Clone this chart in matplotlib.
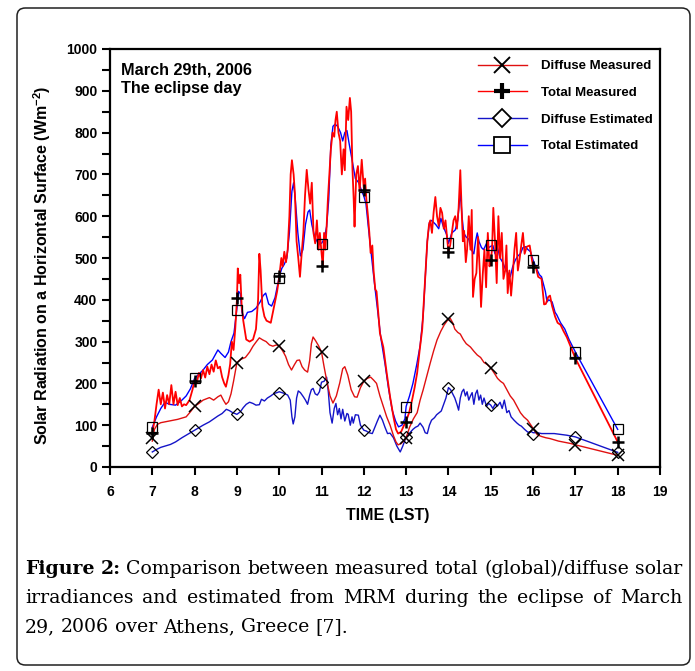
import matplotlib
matplotlib.use('Agg')
import matplotlib.pyplot as plt
from matplotlib.lines import Line2D
from matplotlib.patches import FancyBboxPatch
from matplotlib.ticker import MultipleLocator

# ---------------- data ----------------
tm_t = [7.00, 7.05, 7.10, 7.15, 7.20, 7.25, 7.30, 7.35, 7.40, 7.45, 7.50, 7.55, 7.60, 7.65, 7.70, 7.75,
        7.80, 7.88, 7.95, 8.00, 8.05, 8.10, 8.15, 8.20, 8.25, 8.30, 8.35, 8.40, 8.45, 8.50, 8.55, 8.60,
        8.65, 8.70, 8.74, 8.80, 8.84, 8.88, 8.92, 8.96, 9.00, 9.02, 9.05, 9.08, 9.11, 9.15, 9.22, 9.30,
        9.38, 9.45, 9.50, 9.53, 9.56, 9.60, 9.65, 9.70, 9.80, 9.90, 9.95, 10.00, 10.05, 10.08, 10.12,
        10.16, 10.20, 10.24, 10.27, 10.30, 10.34, 10.37, 10.41, 10.45, 10.49, 10.53, 10.57, 10.61, 10.65,
        10.69, 10.73, 10.77, 10.81, 10.85, 10.89, 10.93, 10.96, 11.00, 11.03, 11.06, 11.09, 11.12, 11.15,
        11.18, 11.22, 11.26, 11.30, 11.33, 11.36, 11.40, 11.44, 11.48, 11.52, 11.55, 11.59, 11.63, 11.67,
        11.70, 11.73, 11.76, 11.78, 11.82, 11.86, 11.90, 11.95, 12.00, 12.03, 12.06, 12.10, 12.13, 12.16,
        12.20, 12.23, 12.27, 12.30, 12.38, 12.46, 12.54, 12.62, 12.70, 12.76, 12.81, 12.88, 12.95, 13.00,
        13.07, 13.14, 13.20, 13.26, 13.32, 13.38, 13.45, 13.50, 13.54, 13.57, 13.61, 13.65, 13.69, 13.73,
        13.77, 13.81, 13.85, 13.89, 13.93, 13.97, 14.00, 14.04, 14.08, 14.12, 14.16, 14.20, 14.24, 14.28,
        14.31, 14.34, 14.37, 14.41, 14.44, 14.48, 14.52, 14.55, 14.58, 14.62, 14.66, 14.70, 14.74, 14.77,
        14.81, 14.85, 14.89, 14.93, 14.97, 15.00, 15.03, 15.06, 15.10, 15.14, 15.18, 15.22, 15.26, 15.30,
        15.34, 15.37, 15.40, 15.44, 15.48, 15.52, 15.56, 15.60, 15.64, 15.68, 15.72, 15.76, 15.80, 15.85,
        15.92, 16.00, 16.06, 16.12, 16.20, 16.26, 16.30, 16.36, 16.40, 16.45, 16.52, 16.58, 16.65, 16.72,
        16.80, 16.90, 17.00, 18.00]
tm_v = [80, 110, 150, 185, 150, 178, 140, 172, 150, 196, 150, 180, 148, 165, 145, 150,
        148, 160, 185, 208, 200, 225, 212, 232, 214, 240, 222, 245, 228, 255, 236, 240,
        215, 200, 192, 220, 246, 300, 280, 330, 400, 475, 440, 460, 390, 350, 305, 300,
        305, 330, 400, 510, 470, 385, 360, 350, 345, 395, 420, 455, 500, 480, 515,
        490, 520, 600, 700, 734, 700, 655, 540, 500, 455, 510, 560, 650, 711,
        665, 630, 680, 560, 535, 590, 520, 560, 512, 480, 560, 520, 575, 640,
        690, 760, 800, 790, 830, 850, 800, 780, 700, 760, 710, 862, 830, 883,
        850, 715, 640, 575, 700, 720, 660, 735, 665, 690, 640, 598, 560, 512,
        530, 470, 425, 420, 320, 287, 225, 168, 120, 90, 80, 84, 100, 110,
        130, 160, 190, 225, 280, 330, 450, 540, 580, 590, 560, 610, 646, 600,
        577, 620, 608, 570, 590, 545, 515, 530, 560, 590, 600, 570, 620, 710,
        620, 540, 565, 490, 520, 600, 520, 615, 407, 450, 464, 550, 470, 383,
        460, 520, 430, 560, 480, 495, 520, 620, 540, 440, 600, 500, 560, 450,
        470, 530, 416, 470, 410, 460, 520, 560, 470, 496, 530, 560, 510, 527,
        530, 478, 480, 455, 450, 389, 390, 407, 410, 385, 360, 345, 340, 325,
        310, 285, 260, 60]

te_t = [7.00, 7.10, 7.20, 7.30, 7.40, 7.55, 7.70, 7.80, 7.90, 8.00, 8.10, 8.20, 8.30, 8.42, 8.55, 8.62,
        8.72, 8.80, 8.86, 8.93, 9.00, 9.04, 9.08, 9.12, 9.18, 9.25, 9.35, 9.45, 9.55, 9.62, 9.68, 9.75,
        9.82, 9.90, 10.00, 10.06, 10.12, 10.18, 10.24, 10.30, 10.34, 10.38, 10.44, 10.50, 10.56, 10.62,
        10.68, 10.72, 10.77, 10.84, 10.92, 11.00, 11.06, 11.12, 11.17, 11.22, 11.27, 11.32, 11.38, 11.45,
        11.50, 11.55, 11.60, 11.65, 11.72, 11.80, 11.88, 11.95, 12.00, 12.05, 12.10, 12.17, 12.25, 12.32,
        12.40, 12.50, 12.58, 12.67, 12.75, 12.82, 12.90, 12.97, 13.00, 13.08, 13.16, 13.25, 13.33, 13.40,
        13.45, 13.50, 13.55, 13.60, 13.65, 13.70, 13.77, 13.82, 13.88, 13.96, 14.00, 14.08, 14.16, 14.22,
        14.28, 14.32, 14.36, 14.42, 14.48, 14.54, 14.60, 14.64, 14.68, 14.72, 14.78, 14.83, 14.90, 14.95,
        15.00, 15.05, 15.10, 15.16, 15.22, 15.28, 15.34, 15.40, 15.46, 15.52, 15.58, 15.64, 15.70, 15.76,
        15.82, 15.88, 15.94, 16.00, 16.08, 16.15, 16.20, 16.25, 16.29, 16.33, 16.37, 16.45, 16.52, 16.56,
        16.65, 16.75, 16.85, 16.95, 17.00, 18.00]
te_v = [95, 120, 140, 155, 150, 148, 160, 170, 187, 212, 222, 232, 245, 256, 280, 272,
        262, 275, 300, 320, 380, 420, 415, 370, 355, 370, 372, 380, 395, 410, 416, 390,
        385, 405, 455, 475, 485, 500, 560, 660, 680, 640, 560, 505, 520, 580,
        610, 615, 580, 550, 535, 535, 545, 575, 640, 770, 815, 820, 815, 800,
        780, 800, 805, 775, 735, 690, 680, 660, 648, 630, 580, 515, 440, 380,
        310, 247, 190, 136, 110, 96, 100, 115, 145, 170, 200, 245, 290, 360,
        450, 540, 585, 590, 585, 580, 570, 595, 575, 555, 535, 560, 567, 590,
        660, 600, 560, 550, 545, 520, 510, 540, 560, 540, 525, 520, 535, 525,
        528, 530, 510, 525, 500, 490, 475, 465, 455, 480, 495, 505, 510, 525,
        527, 520, 515, 495, 475, 460, 455, 435, 420, 395, 400, 395, 370, 364,
        345, 330, 305, 285, 275, 90]

dm_t = [7.00, 7.05, 7.12, 7.20, 7.30, 7.40, 7.50, 7.60, 7.70, 7.80, 7.90, 8.00, 8.10, 8.20, 8.30, 8.35,
        8.45, 8.55, 8.62, 8.68, 8.74, 8.80, 8.86, 8.92, 9.00, 9.10, 9.20, 9.30, 9.38, 9.46, 9.53, 9.61,
        9.69, 9.77, 9.85, 9.93, 10.00, 10.08, 10.15, 10.22, 10.29, 10.36, 10.42, 10.48, 10.54, 10.60,
        10.67, 10.72, 10.76, 10.80, 10.86, 10.93, 11.00, 11.06, 11.12, 11.20, 11.27, 11.35, 11.43, 11.50,
        11.55, 11.62, 11.70, 11.78, 11.84, 11.92, 12.00, 12.08, 12.16, 12.23, 12.30, 12.38, 12.46, 12.54,
        12.62, 12.70, 12.76, 12.81, 12.88, 12.95, 13.00, 13.08, 13.17, 13.26, 13.33, 13.40, 13.48, 13.57,
        13.65, 13.73, 13.82, 13.90, 13.97, 14.04, 14.10, 14.15, 14.22, 14.28, 14.35, 14.42, 14.52, 14.60,
        14.68, 14.76, 14.84, 14.92, 15.00, 15.08, 15.16, 15.23, 15.30, 15.38, 15.46, 15.54, 15.62, 15.70,
        15.78, 15.87, 15.95, 16.03, 16.10, 16.20, 16.30, 16.40, 16.50, 16.60, 16.70, 16.80, 16.90, 17.00,
        18.00]
dm_v = [62, 90, 102, 106, 108, 110, 112, 114, 117, 120, 132, 145, 152, 160, 164, 166,
        160, 168, 172, 160, 150, 156, 175, 205, 250, 258, 262, 275, 289, 300, 309, 304,
        300, 292, 289, 292, 290, 278, 265, 245, 232, 245, 255, 256, 240, 232,
        227, 255, 295, 311, 302, 290, 275, 240, 208, 170, 153, 170, 201, 235,
        240, 220, 185, 168, 167, 190, 205, 212, 215, 208, 200, 170, 145, 120,
        100, 75, 60, 53, 56, 63, 70, 95, 115, 130, 160, 184, 215, 249,
        278, 304, 325, 340, 350, 356, 345, 330, 322, 318, 305, 295, 287, 277,
        268, 262, 250, 245, 237, 225, 212, 205, 200, 185, 170, 160, 145, 130,
        120, 112, 100, 88, 77, 73, 70, 68, 65, 62, 60, 58, 56, 53,
        28]

de_t = [7.00, 7.10, 7.20, 7.30, 7.43, 7.55, 7.70, 7.80, 7.90, 8.00, 8.10, 8.20, 8.35, 8.45, 8.55, 8.65,
        8.75, 8.82, 8.90, 9.00, 9.08, 9.15, 9.22, 9.30, 9.38, 9.45, 9.53, 9.58, 9.65, 9.72, 9.80, 9.88,
        9.95, 10.00, 10.06, 10.12, 10.20, 10.26, 10.30, 10.33, 10.37, 10.41, 10.45, 10.50, 10.57, 10.62,
        10.67, 10.72, 10.76, 10.80, 10.85, 10.90, 10.95, 11.00, 11.06, 11.12, 11.16, 11.20, 11.25, 11.30,
        11.34, 11.38, 11.42, 11.46, 11.50, 11.55, 11.60, 11.63, 11.68, 11.72, 11.75, 11.80, 11.87, 11.92,
        12.00, 12.06, 12.12, 12.20, 12.26, 12.32, 12.38, 12.44, 12.50, 12.56, 12.62, 12.70, 12.78, 12.86,
        12.92, 13.00, 13.08, 13.16, 13.22, 13.28, 13.33, 13.40, 13.45, 13.50, 13.55, 13.60, 13.67, 13.72,
        13.78, 13.83, 13.88, 13.94, 14.00, 14.05, 14.10, 14.15, 14.20, 14.24, 14.28, 14.32, 14.36, 14.40,
        14.44, 14.48, 14.52, 14.56, 14.60, 14.64, 14.68, 14.72, 14.76, 14.80, 14.84, 14.90, 14.95, 15.00,
        15.05, 15.10, 15.16, 15.22, 15.27, 15.32, 15.38, 15.43, 15.48, 15.55, 15.62, 15.68, 15.72, 15.80,
        15.88, 15.95, 16.00, 16.10, 16.20, 16.35, 16.50, 16.65, 16.80, 17.00, 18.00]
de_v = [36, 42, 47, 50, 54, 60, 70, 76, 82, 88, 94, 100, 108, 115, 122, 128,
        138, 135, 130, 126, 132, 142, 150, 155, 152, 148, 149, 162, 158, 165, 170, 176,
        178, 180, 178, 176, 172, 160, 120, 103, 120, 165, 182, 178, 168, 160,
        150, 172, 185, 188, 175, 172, 180, 203, 205, 215, 180, 130, 105, 140,
        152, 125, 140, 115, 138, 110, 128, 126, 100, 120, 105, 125, 124, 100,
        88, 86, 82, 80, 95, 110, 124, 112, 95, 80, 81, 70, 50, 36,
        50, 72, 81, 90, 95, 98, 105, 95, 82, 80, 100, 112, 118, 125,
        130, 134, 148, 165, 190, 185, 175, 165, 150, 136, 165, 180, 186, 170,
        180, 160, 170, 178, 150, 175, 184, 160, 172, 150, 165, 145, 152, 148,
        140, 150, 146, 155, 140, 160, 130, 135, 120, 112, 105, 100, 98, 90,
        83, 85, 82, 82, 80, 80, 80, 78, 76, 72, 35]

# hourly symbols
mark_hours = [7, 8, 9, 10, 11, 12, 13, 14, 15, 16, 17, 18]
dm_marks = [70, 145, 250, 290, 275, 205, 70, 355, 237, 90, 53, 28]
tm_marks = [82, 206, 405, 457, 480, 663, 108, 514, 495, 478, 260, 60]
de_marks = [36, 88, 126, 178, 203, 88, 72, 190, 148, 80, 72, 36]
te_marks = [96, 213, 376, 453, 533, 647, 144, 535, 530, 495, 275, 91]

series_names = ["Diffuse Measured", "Total Measured", "Diffuse Estimated", "Total Estimated"]
x_ticks = list(range(6, 20))
y_ticks = list(range(0, 1001, 100))

# ---------------- style ----------------
plt.rcParams['font.family'] = ['Liberation Sans', 'DejaVu Sans']
plt.rcParams['font.weight'] = 'bold'
plt.rcParams['mathtext.fontset'] = 'custom'
plt.rcParams['mathtext.rm'] = 'Liberation Sans:bold'
plt.rcParams['mathtext.it'] = 'Liberation Sans:bold'
plt.rcParams['mathtext.bf'] = 'Liberation Sans:bold'
plt.rcParams['mathtext.default'] = 'rm'

W, H = 695, 671
fig = plt.figure(figsize=(W / 100, H / 100), dpi=100)
ax = fig.add_axes([110 / W, 1 - 467 / H, 550 / W, 418 / H])

RED = '#ff0000'
RED_D = '#e01010'
BLUE = '#0000ff'
NAVY = '#1414c8'

ax.plot(te_t, te_v, color=BLUE, lw=1.0, zorder=2)
ax.plot(tm_t, tm_v, color=RED, lw=1.3, zorder=3)
ax.plot(de_t, de_v, color=NAVY, lw=1.0, zorder=2)
ax.plot(dm_t, dm_v, color=RED_D, lw=1.0, zorder=3)

mk = dict(linestyle='none', zorder=5)
ax.plot(mark_hours, dm_marks, marker='x', ms=8, mew=1.1, color='black', **mk)
ax.plot(mark_hours, tm_marks, marker='+', ms=9, mew=1.8, color='black', **mk)
ax.plot(mark_hours, de_marks, marker='D', ms=6, mew=0.9, mfc='none', mec='black', **mk)
ax.plot(mark_hours, te_marks, marker='s', ms=7, mew=0.9, mfc='none', mec='black', **mk)

ax.set_xlim(6, 19)
ax.set_ylim(0, 1000)
ax.set_xticks(x_ticks)
ax.set_yticks(y_ticks)
ax.yaxis.set_minor_locator(MultipleLocator(50))
ax.tick_params(axis='both', which='both', direction='out', width=1.5, length=6,
               labelsize=10, pad=3, top=False, right=False)
ax.tick_params(axis='x', which='major', pad=7)
ax.tick_params(axis='x', which='minor', bottom=False)
for s in ax.spines.values():
    s.set_linewidth(1.6)

ax.set_xlabel('TIME (LST)', fontsize=11.5, fontweight='bold')
ax.set_ylabel('Solar Radiation on a Horizontal Surface (Wm$^{-2}$)', fontsize=11.5, fontweight='bold')
ax.xaxis.set_label_coords(0.505, -0.098)
ax.yaxis.set_label_coords(-0.104, 0.483)

ax.text((121.5 - 110) / 550, (467 - 74.5) / 418, 'March 29th, 2006', transform=ax.transAxes,
        fontsize=11.7, fontweight='bold', va='baseline', ha='left')
ax.text((121.5 - 110) / 550, (467 - 93.5) / 418, 'The eclipse day', transform=ax.transAxes,
        fontsize=11.7, fontweight='bold', va='baseline', ha='left')

handles = [
    Line2D([], [], color=RED_D, lw=1.0, marker='x', ms=11, mew=1.4, mec='black'),
    Line2D([], [], color=RED, lw=1.0, marker='+', ms=12, mew=3.0, mec='black'),
    Line2D([], [], color=NAVY, lw=1.0, marker='D', ms=9, mew=1.3, mfc='white', mec='black'),
    Line2D([], [], color=BLUE, lw=1.0, marker='s', ms=11, mew=1.3, mfc='white', mec='black'),
]
leg = ax.legend(handles, series_names, loc='upper left', bbox_to_anchor=((478 - 110) / 550, (467 - 60) / 418),
                frameon=False, handlelength=3.7, handletextpad=1.1, labelspacing=1.1,
                borderpad=0, borderaxespad=0, prop={'weight': 'bold', 'size': 9.5})

# outer rounded frame
frame = FancyBboxPatch((17 / W, 1 - 665 / H), (690 - 17) / W, (665 - 8) / H,
                       boxstyle='round,pad=0,rounding_size=0.012', transform=fig.transFigure,
                       fill=False, lw=1.1, ec='#202020')
fig.add_artist(frame)

# caption (justified)
renderer = fig.canvas.get_renderer()
CAP_FS = 13.6
CAP_FAM = ['DejaVu Serif']
lines = [
    ([('Figure', True), ('2:', True), ('Comparison', False), ('between', False), ('measured', False),
      ('total', False), ('(global)/diffuse', False), ('solar', False)], 574, True),
    ([(w, False) for w in 'irradiances and estimated from MRM during the eclipse of March'.split()], 603, True),
    ([(w, False) for w in '29, 2006 over Athens, Greece [7].'.split()], 632, False),
]
x0, x1 = 25, 682
probe = fig.text(0, 0, 'a a', fontsize=CAP_FS, family=CAP_FAM, fontweight='normal')
probe2 = fig.text(0, 0, 'aa', fontsize=CAP_FS, family=CAP_FAM, fontweight='normal')
space_w = probe.get_window_extent(renderer).width - probe2.get_window_extent(renderer).width
probe.remove(); probe2.remove()
for words, ybase, just in lines:
    ts, ws = [], []
    for w, b in words:
        t = fig.text(0, 1 - ybase / H, w, fontsize=CAP_FS, family=CAP_FAM,
                     fontweight='bold' if b else 'normal', va='baseline', ha='left')
        ts.append(t)
        ws.append(t.get_window_extent(renderer).width)
    gap = (x1 - x0 - sum(ws)) / (len(ws) - 1) if just else space_w
    if just and gap < 0.6 * space_w:
        gap = 0.6 * space_w
    x = x0
    for t, w in zip(ts, ws):
        t.set_x(x / W)
        x += w + gap

fig.savefig('out.png', dpi=100)
